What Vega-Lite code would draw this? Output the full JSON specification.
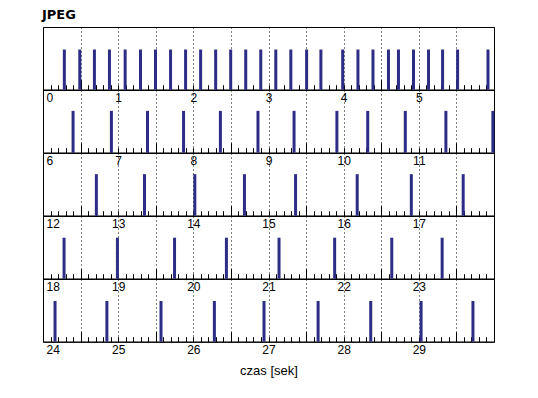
{
  "$schema": "https://vega.github.io/schema/vega-lite/v6.json",
  "padding": {"left": 42, "top": 8, "right": 5, "bottom": 5},
  "background": "white",
  "title": {"text": "JPEG", "anchor": "start", "font": "DejaVu Sans", "fontSize": 13, "fontWeight": "bold", "color": "black", "offset": 5},
  "bounds": "flush",
  "spacing": 0,
  "datasets": {
    "frames": [
      {"t": 0.284, "v": 1}, {"t": 0.489, "v": 1}, {"t": 0.684, "v": 1}, {"t": 0.884, "v": 1},
      {"t": 1.093, "v": 1}, {"t": 1.297, "v": 1}, {"t": 1.497, "v": 1}, {"t": 1.697, "v": 1},
      {"t": 1.897, "v": 1}, {"t": 2.097, "v": 1}, {"t": 2.297, "v": 1}, {"t": 2.497, "v": 1},
      {"t": 2.697, "v": 1}, {"t": 2.897, "v": 1}, {"t": 3.097, "v": 1}, {"t": 3.297, "v": 1},
      {"t": 3.507, "v": 1}, {"t": 3.697, "v": 1}, {"t": 3.987, "v": 1}, {"t": 4.19, "v": 1},
      {"t": 4.39, "v": 1}, {"t": 4.596, "v": 1}, {"t": 4.729, "v": 1}, {"t": 4.929, "v": 1},
      {"t": 5.129, "v": 1}, {"t": 5.316, "v": 1}, {"t": 5.516, "v": 1}, {"t": 5.92, "v": 1},
      {"t": 6.40, "v": 1}, {"t": 6.91, "v": 1}, {"t": 7.39, "v": 1}, {"t": 7.87, "v": 1},
      {"t": 8.36, "v": 1}, {"t": 8.86, "v": 1}, {"t": 9.34, "v": 1}, {"t": 9.91, "v": 1},
      {"t": 10.32, "v": 1}, {"t": 10.82, "v": 1}, {"t": 11.36, "v": 1}, {"t": 11.985, "v": 1},
      {"t": 12.71, "v": 1}, {"t": 13.35, "v": 1}, {"t": 14.02, "v": 1}, {"t": 14.68, "v": 1},
      {"t": 15.36, "v": 1}, {"t": 16.18, "v": 1}, {"t": 16.90, "v": 1}, {"t": 17.59, "v": 1},
      {"t": 18.28, "v": 1}, {"t": 18.99, "v": 1}, {"t": 19.75, "v": 1}, {"t": 20.44, "v": 1},
      {"t": 21.14, "v": 1}, {"t": 21.88, "v": 1}, {"t": 22.64, "v": 1}, {"t": 23.31, "v": 1},
      {"t": 24.16, "v": 1}, {"t": 24.85, "v": 1}, {"t": 25.57, "v": 1}, {"t": 26.28, "v": 1},
      {"t": 26.94, "v": 1}, {"t": 27.66, "v": 1}, {"t": 28.36, "v": 1}, {"t": 29.03, "v": 1},
      {"t": 29.72, "v": 1}
    ]
  },
  "config": {
    "view": {"stroke": "black", "strokeWidth": 1, "fill": null},
    "axis": {
      "domainColor": "black", "tickColor": "black", "labelColor": "black",
      "labelFont": "Liberation Sans", "labelFontSize": 12,
      "labelFlush": true, "labelFlushOffset": -3, "labelOverlap": false, "labelBound": false,
      "labelPadding": 8, "grid": true, "gridColor": "black", "gridDash": [1, 3],
      "titleFont": "Liberation Sans", "titleFontSize": 13, "titleFontWeight": "normal", "titleColor": "black", "titlePadding": 9
    }
  },
  "vconcat": [
    {
      "width": 451, "height": 62.7,
      "data": {"name": "frames"},
      "transform": [{"filter": "datum.t >= 0 && datum.t < 6"}],
      "mark": {"type": "rule", "strokeWidth": 3, "color": "#2d2d86"},
      "encoding": {
        "x": {"field": "t", "type": "quantitative", "scale": {"domain": [0, 6], "nice": false, "zero": false},
          "axis": {"tickCount": 60, "title": null,
            "labelExpr": "datum.value < 5.95 && round(datum.value*10) % 10 == 0 ? format(datum.value, '.0f') : ''",
            "gridOpacity": {"condition": {"test": "round(datum.value*10) % 5 == 0", "value": 1}, "value": 0},
            "tickSize": {"condition": {"test": "round(datum.value*10) % 10 == 5", "value": -10}, "value": -5}}},
        "y": {"field": "v", "type": "quantitative", "scale": {"domain": [0, 1.56]}, "axis": null},
        "y2": {"datum": 0}
      }
    },
    {
      "width": 451, "height": 62.7,
      "data": {"name": "frames"},
      "transform": [{"filter": "datum.t >= 6 && datum.t < 12"}],
      "mark": {"type": "rule", "strokeWidth": 3, "color": "#2d2d86"},
      "encoding": {
        "x": {"field": "t", "type": "quantitative", "scale": {"domain": [6, 12], "nice": false, "zero": false},
          "axis": {"tickCount": 60, "title": null,
            "labelExpr": "datum.value < 11.95 && round(datum.value*10) % 10 == 0 ? format(datum.value, '.0f') : ''",
            "gridOpacity": {"condition": {"test": "round(datum.value*10) % 5 == 0", "value": 1}, "value": 0},
            "tickSize": {"condition": {"test": "round(datum.value*10) % 10 == 5", "value": -10}, "value": -5}}},
        "y": {"field": "v", "type": "quantitative", "scale": {"domain": [0, 1.5]}, "axis": null},
        "y2": {"datum": 0}
      }
    },
    {
      "width": 451, "height": 62.7,
      "data": {"name": "frames"},
      "transform": [{"filter": "datum.t >= 12 && datum.t < 18"}],
      "mark": {"type": "rule", "strokeWidth": 3, "color": "#2d2d86"},
      "encoding": {
        "x": {"field": "t", "type": "quantitative", "scale": {"domain": [12, 18], "nice": false, "zero": false},
          "axis": {"tickCount": 60, "title": null,
            "labelExpr": "datum.value < 17.95 && round(datum.value*10) % 10 == 0 ? format(datum.value, '.0f') : ''",
            "gridOpacity": {"condition": {"test": "round(datum.value*10) % 5 == 0", "value": 1}, "value": 0},
            "tickSize": {"condition": {"test": "round(datum.value*10) % 10 == 5", "value": -10}, "value": -5}}},
        "y": {"field": "v", "type": "quantitative", "scale": {"domain": [0, 1.51]}, "axis": null},
        "y2": {"datum": 0}
      }
    },
    {
      "width": 451, "height": 62.7,
      "data": {"name": "frames"},
      "transform": [{"filter": "datum.t >= 18 && datum.t < 24"}],
      "mark": {"type": "rule", "strokeWidth": 3, "color": "#2d2d86"},
      "encoding": {
        "x": {"field": "t", "type": "quantitative", "scale": {"domain": [18, 24], "nice": false, "zero": false},
          "axis": {"tickCount": 60, "title": null,
            "labelExpr": "datum.value < 23.95 && round(datum.value*10) % 10 == 0 ? format(datum.value, '.0f') : ''",
            "gridOpacity": {"condition": {"test": "round(datum.value*10) % 5 == 0", "value": 1}, "value": 0},
            "tickSize": {"condition": {"test": "round(datum.value*10) % 10 == 5", "value": -10}, "value": -5}}},
        "y": {"field": "v", "type": "quantitative", "scale": {"domain": [0, 1.53]}, "axis": null},
        "y2": {"datum": 0}
      }
    },
    {
      "width": 451, "height": 62.7,
      "data": {"name": "frames"},
      "transform": [{"filter": "datum.t >= 24 && datum.t < 30"}],
      "mark": {"type": "rule", "strokeWidth": 3, "color": "#2d2d86"},
      "encoding": {
        "x": {"field": "t", "type": "quantitative", "scale": {"domain": [24, 30], "nice": false, "zero": false},
          "axis": {"tickCount": 60, "title": "czas [sek]",
            "labelExpr": "datum.value < 29.95 && round(datum.value*10) % 10 == 0 ? format(datum.value, '.0f') : ''",
            "gridOpacity": {"condition": {"test": "round(datum.value*10) % 5 == 0", "value": 1}, "value": 0},
            "tickSize": {"condition": {"test": "round(datum.value*10) % 10 == 5", "value": -10}, "value": -5}}},
        "y": {"field": "v", "type": "quantitative", "scale": {"domain": [0, 1.54]}, "axis": null},
        "y2": {"datum": 0}
      }
    }
  ]
}
